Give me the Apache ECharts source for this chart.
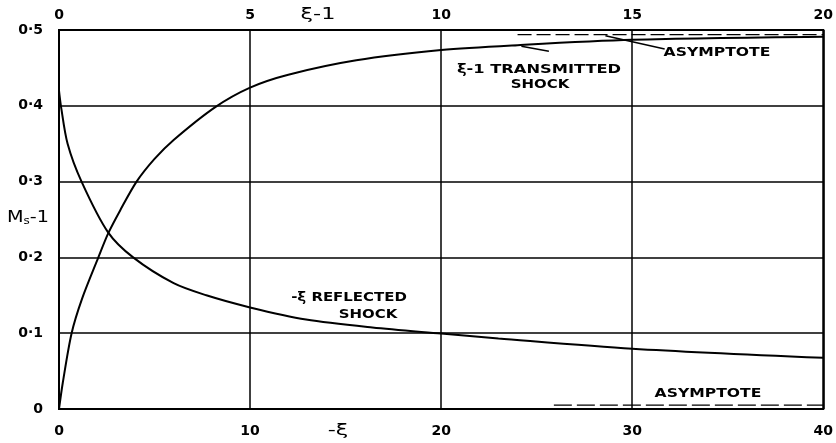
<!DOCTYPE html>
<html><head><meta charset="utf-8">
<script src="https://cdn.jsdelivr.net/npm/echarts@6/dist/echarts.min.js"></script>
<style>html,body{margin:0;padding:0;background:#fff}#c{width:836px;height:443px}</style>
</head><body><div id="c"></div>
<script>
// Transmitted shock: x = ξ-1 (top axis), y = Ms-1
const transX = [0, 0.1, 0.33, 0.6, 1.03, 1.29, 1.6, 2.03, 2.5, 3, 4.08, 5, 6, 7.78, 10, 12, 15, 20];
const transY = [0, 0.035, 0.1, 0.145, 0.2, 0.232, 0.262, 0.3, 0.33, 0.355, 0.398, 0.424, 0.441, 0.46, 0.4735, 0.48, 0.487, 0.491];
// Reflected shock: x = -ξ (bottom axis), y = Ms-1
const reflX = [0, 0.1, 0.45, 1.18, 2.57, 3.88, 6, 7.71, 10, 12.93, 16.4, 20, 23, 30, 40];
const reflY = [0.42, 0.4, 0.35, 0.3, 0.233, 0.2, 0.166, 0.15, 0.134, 0.118, 0.1075, 0.0995, 0.093, 0.0795, 0.0675];
// Asymptotes
const transAsymX = [12, 20];
const transAsymY = 0.494;
const reflAsymX = [25.9, 40];
const reflAsymY = 0.005;
// Tick labels
const bottomTicks = ['0', '10', '20', '30', '40'];
const topTicks = ['0', '5', '10', '15', '20'];
const yTicks = ['0', '0·1', '0·2', '0·3', '0·4', '0·5'];

const FONT = 'DejaVu Sans';
const lab = {color: '#000', fontFamily: FONT, fontWeight: 'bold', fontSize: 14};
const chart = echarts.init(document.getElementById('c'), null, {renderer: 'canvas'});
const zip = (xs, ys) => xs.map((x, i) => [x, ys[i]]);
const txt = (t, x, y, sx, size, weight) => ({
  type: 'text', x: x, y: y, scaleX: sx,
  style: {text: t, fontFamily: FONT, fontWeight: weight || 'bold', fontSize: size || 13,
          fill: '#000', textAlign: 'center', textVerticalAlign: 'middle'}
});

chart.setOption({
  animation: false,
  backgroundColor: '#fff',
  grid: {left: 59, right: 11, top: 30, bottom: 34, show: true, borderColor: '#000', borderWidth: 2},
  xAxis: [
    {type: 'value', position: 'bottom', min: 0, max: 40, interval: 10,
     axisLine: {show: false}, axisTick: {show: false},
     splitLine: {show: true, lineStyle: {color: '#000', width: 1.5}},
     axisLabel: Object.assign({}, lab, {margin: 15, formatter: v => bottomTicks[Math.round(v / 10)]})},
    {type: 'value', position: 'top', min: 0, max: 20, interval: 5,
     axisLine: {show: false}, axisTick: {show: false}, splitLine: {show: false},
     axisLabel: Object.assign({}, lab, {margin: 8, formatter: v => topTicks[Math.round(v / 5)]})}
  ],
  yAxis: {type: 'value', min: 0, max: 0.5, interval: 0.1,
    axisLine: {show: false}, axisTick: {show: false},
    splitLine: {show: true, lineStyle: {color: '#000', width: 1.5}},
    axisLabel: Object.assign({}, lab, {margin: 16, formatter: v => yTicks[Math.round(v * 10)]})},
  series: [
    {type: 'line', xAxisIndex: 1, smooth: 0.3, symbol: 'none', data: zip(transX, transY),
     lineStyle: {color: '#000', width: 2},
     markLine: {silent: true, symbol: ['none', 'arrow'], symbolSize: [0, 11],
       label: {show: false}, lineStyle: {color: '#000', width: 1.5, type: 'solid'},
       data: [
         [{coord: [12.82, 0.472]}, {coord: [12.1, 0.4785]}],
         [{coord: [15.85, 0.475]}, {coord: [14.3, 0.4925]}]
       ]}},
    {type: 'line', xAxisIndex: 0, smooth: 0.3, symbol: 'none', data: zip(reflX, reflY),
     lineStyle: {color: '#000', width: 2}},
    {type: 'line', xAxisIndex: 1, symbol: 'none', data: transAsymX.map(x => [x, transAsymY]),
     lineStyle: {color: '#000', width: 1.2, type: [14, 5]}},
    {type: 'line', xAxisIndex: 0, symbol: 'none', data: reflAsymX.map(x => [x, reflAsymY]),
     lineStyle: {color: '#000', width: 1.2, type: [18, 5]}}
  ],
  graphic: [
    txt('ξ-1', 318, 15, 1.4, 16, 'normal'),
    txt('-ξ', 338, 431, 1.4, 16, 'normal'),
    {type: 'text', x: 7, y: 218, scaleX: 1.2,
     style: {text: '{m|M}{s|s}{m|-1}', textVerticalAlign: 'middle',
       rich: {m: {fontFamily: FONT, fontSize: 16, color: '#000'}, s: {fontFamily: FONT, fontSize: 10, color: '#000', padding: [6, 0, 0, 0]}}}},
    txt('ξ-1 TRANSMITTED', 539, 70, 1.25, 13),
    txt('SHOCK', 540, 85, 1.15, 13),
    txt('ASYMPTOTE', 717, 53, 1.2, 13),
    txt('-ξ REFLECTED', 349, 298, 1.15, 13),
    txt('SHOCK', 368, 315, 1.15, 13),
    txt('ASYMPTOTE', 708, 394, 1.2, 13)
  ]
});
</script></body></html>
